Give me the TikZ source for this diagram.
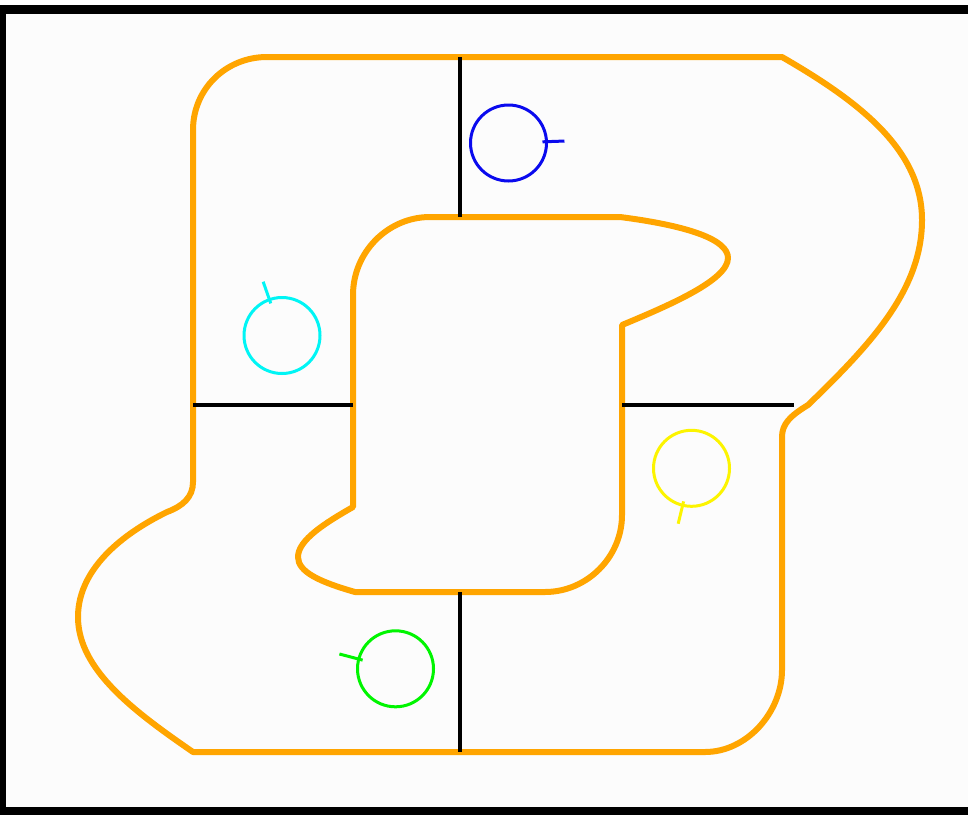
\documentclass[tikz,border=0pt]{standalone}
\usetikzlibrary{calc}
\definecolor{bgc}{HTML}{FCFCFC}
\definecolor{wall}{HTML}{FFA500}
\definecolor{cblue}{HTML}{0A0AEE}
\definecolor{ccyan}{HTML}{00F5F5}
\definecolor{cyellow}{HTML}{FCF400}
\definecolor{cgreen}{HTML}{00F500}
\tikzset{
  wallline/.style={draw=wall, line width=6pt, line join=round},
  divider/.style={draw=black, line width=4pt},
  robot/.style={line width=3pt},
}
\begin{document}
\begin{tikzpicture}[x=1pt,y=-1pt]
\useasboundingbox (0,0) rectangle (968,814);
\begin{scope}
\clip (0,0) rectangle (968,814);
\fill[white] (0,0) rectangle (968,814);
\fill[bgc] (1.5,9.5) rectangle (980,811.5);
\draw[line width=9pt] (1.5,9.5) rectangle (980,811.5);
\end{scope}

% outer wall
\draw[wallline]
  (267,57) -- (782,57)
  .. controls (860,102) and (922,150) .. (922,220)
  .. controls (922,290) and (870,345) .. (808,405)
  .. controls (790,416) and (782,424) .. (782,437)
  -- (782,670)
  .. controls (782,712) and (747,752) .. (705,752)
  -- (193,752)
  .. controls (135,712) and (78,670) .. (78,617)
  .. controls (78,565) and (130,530) .. (167,512)
  .. controls (183,506) and (193,497) .. (193,482)
  -- (193,130)
  .. controls (193,89) and (226,57) .. (267,57) -- cycle;

% inner wall
\draw[wallline]
  (430,217) -- (620,217)
  .. controls (690,226) and (728,240) .. (728,258)
  .. controls (728,280) and (670,305) .. (622,325)
  -- (622,515)
  .. controls (622,557) and (587,592) .. (545,592)
  -- (355,592)
  .. controls (320,582) and (298,572) .. (298,557)
  .. controls (298,540) and (325,523) .. (353,507)
  -- (353,295)
  .. controls (353,252) and (388,217) .. (430,217) -- cycle;

% dividers
\coordinate (t1) at (460,57);  \coordinate (t2) at (460,217);
\coordinate (l1) at (193,405); \coordinate (l2) at (353,405);
\coordinate (r1) at (622,405); \coordinate (r2) at (794,405);
\coordinate (b1) at (460,592); \coordinate (b2) at (460,752);
\draw[divider] (t1) -- (t2);
\draw[divider] (l1) -- (l2);
\draw[divider] (r1) -- (r2);
\draw[divider] (b1) -- (b2);

% robots
\coordinate (blue) at (508.5,143);
\coordinate (cyan) at (282,335.5);
\coordinate (yellow) at (691.5,468.3);
\coordinate (green) at (395.5,668.8);
\draw[robot,draw=cblue] (blue) circle[radius=38];
\draw[robot,draw=cblue] ($(blue)+(-2:34)$) -- ($(blue)+(-2:56)$);
\draw[robot,draw=ccyan] (cyan) circle[radius=38];
\draw[robot,draw=ccyan] ($(cyan)+(-109.3:34)$) -- ($(cyan)+(-109.3:57)$);
\draw[robot,draw=cyellow] (yellow) circle[radius=38];
\draw[robot,draw=cyellow] ($(yellow)+(103.5:34)$) -- ($(yellow)+(103.5:57)$);
\draw[robot,draw=cgreen] (green) circle[radius=38];
\draw[robot,draw=cgreen] ($(green)+(-165.2:34)$) -- ($(green)+(-165.2:58)$);
\end{tikzpicture}
\end{document}
